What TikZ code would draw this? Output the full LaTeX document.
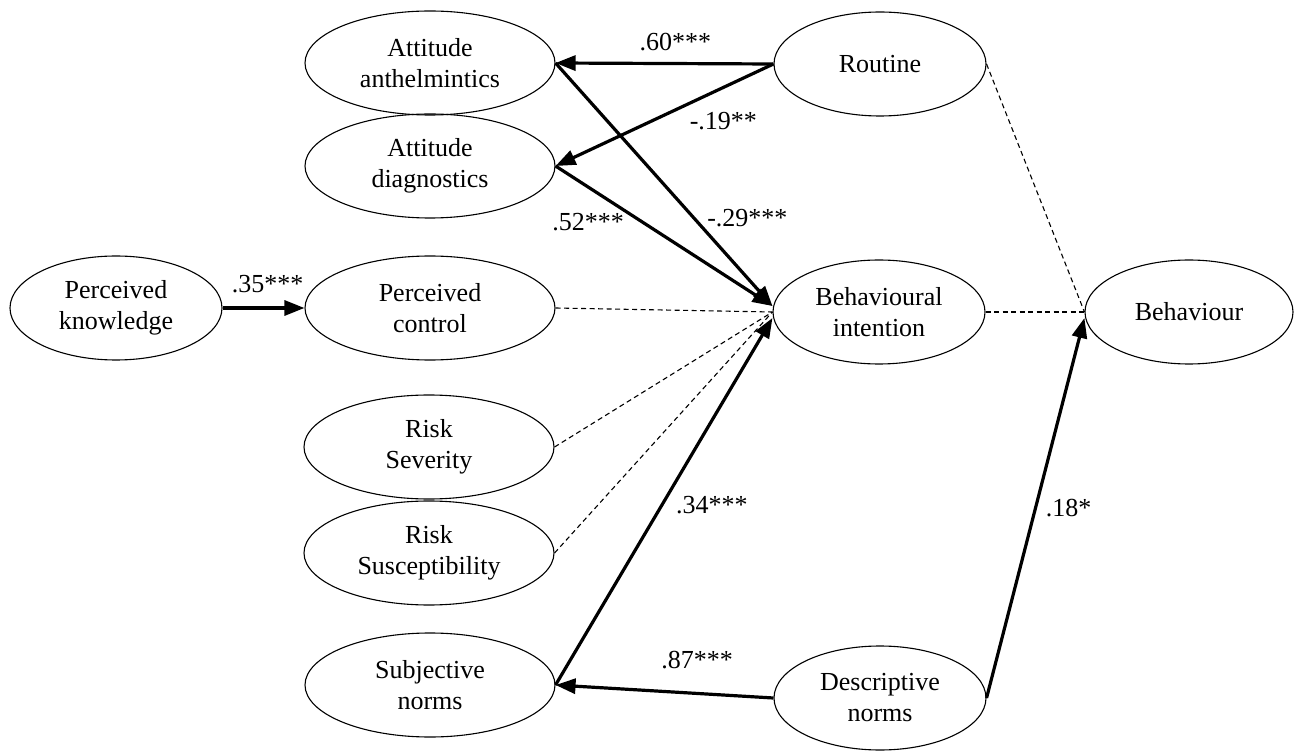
\documentclass[tikz,border=0pt]{standalone}
\usepackage{fontspec}
\setmainfont{Liberation Serif}
\usetikzlibrary{positioning,calc,shapes.geometric,arrows.meta}

\begin{document}
\begin{tikzpicture}[x=1pt,y=-1pt,
  latent/.style={draw,ellipse,line width=1.1pt,inner sep=0pt,
    minimum width=250pt,minimum height=104pt,align=center,
    font=\fontsize{26}{31}\selectfont},
  latentS/.style={latent,minimum width=212pt},
  effect/.style={line width=3.2pt,-{Triangle[length=20pt,width=15pt]}},
  nsline/.style={line width=1.1pt,dash pattern=on 5pt off 3.5pt},
  coef/.style={font=\fontsize{26}{31}\selectfont}]
  \useasboundingbox (0,0) rectangle (1294,751);

  \path
  (430,63) node[latent] (attA) {Attitude\\anthelmintics}
  (430,166) node[latent] (attD) {Attitude\\diagnostics}
  (116,308) node[latentS] (knowl) {Perceived\\knowledge}
  (430,308) node[latent] (control) {Perceived\\control}
  (429,447) node[latent] (sev) {Risk\\Severity}
  (429,553) node[latent] (susc) {Risk\\Susceptibility}
  (430,685) node[latent] (subj) {Subjective\\norms}
  (880,64) node[latentS] (routine) {Routine}
  (879,312) node[latentS] (intent) {Behavioural\\intention}
  (1189,312) node[latentS,minimum width=208pt] (behav) {Behaviour}
  (880,698) node[latentS] (descr) {Descriptive\\norms};

  % significant paths
  \draw[effect] (routine.west) -- node[coef,pos=.45,yshift=22pt]{.60***} (attA.east);
  \draw[effect] (routine.west) -- node[coef,pos=.23,yshift=-34pt]{-.19**} (attD.east);
  \draw[effect] (attA.east) -- node[coef,pos=.64,xshift=53pt]{-.29***} ([yshift=6pt]intent.west);
  \draw[effect] (attD.east) -- node[coef,pos=.15,yshift=-35pt]{.52***} ([yshift=6pt]intent.west);
  \draw[effect] (knowl.east) -- node[coef,pos=.55,yshift=24pt]{.35***} (control.west);
  \draw[effect] (subj.east) -- node[coef,pos=.49,xshift=50pt]{.34***} ([yshift=-6pt]intent.west);
  \draw[effect] (descr.west) -- node[coef,pos=.35,yshift=33pt]{.87***} (subj.east);
  \draw[effect] (descr.east) -- node[coef,pos=.5,xshift=33pt]{.18*} ([yshift=-6pt]behav.west);

  % non-significant paths
  \foreach \src in {control,sev,susc} \draw[nsline] (\src.east) -- (intent.west);
  \draw[nsline] (intent.east) -- (behav.west);
  \draw[nsline] (routine.east) -- (behav.west);
\end{tikzpicture}
\end{document}
